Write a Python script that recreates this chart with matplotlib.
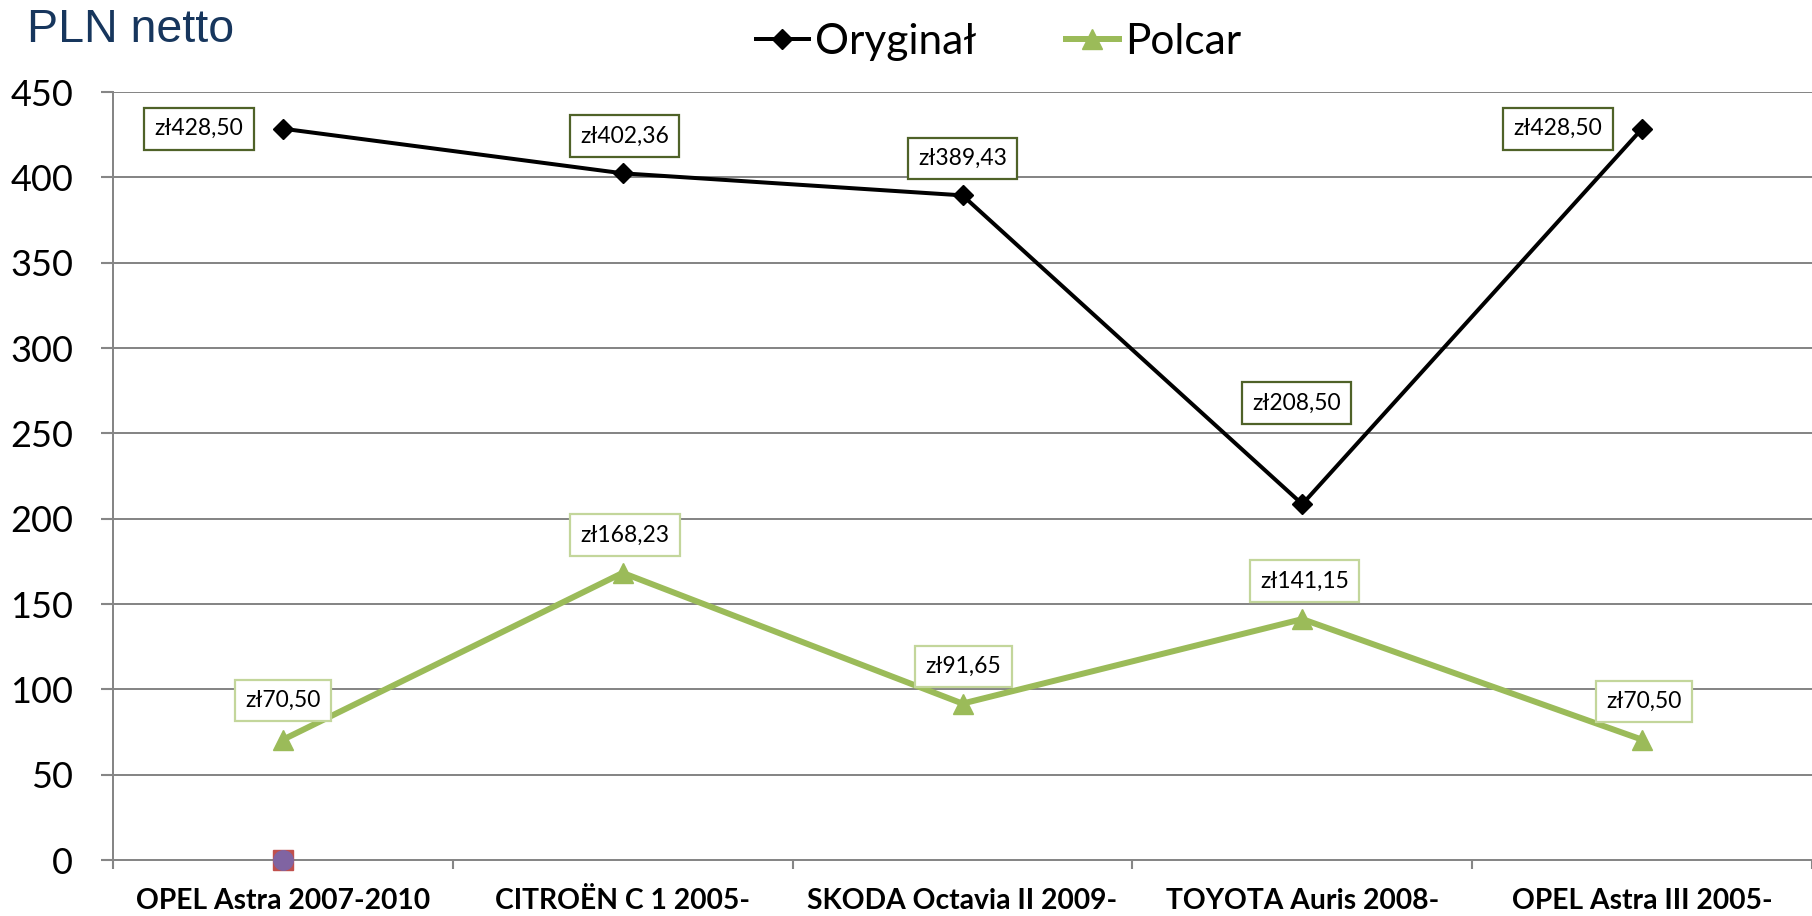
import matplotlib
matplotlib.use("Agg")
import matplotlib.pyplot as plt
from matplotlib.lines import Line2D
from matplotlib.transforms import Bbox

# ---- data ----
categories = ["OPEL Astra 2007-2010", "CITROËN C 1 2005-", "SKODA Octavia II 2009-",
              "TOYOTA Auris 2008-", "OPEL Astra III 2005-"]
oryginal = [428.50, 402.36, 389.43, 208.50, 428.50]
polcar = [70.50, 168.23, 91.65, 141.15, 70.50]
extra_square = [0.0]   # third series (only first category)
extra_circle = [0.0]   # fourth series (only first category)
y_ticks = [0, 50, 100, 150, 200, 250, 300, 350, 400, 450]
series_names = ["Oryginał", "Polcar"]

# label offsets in pixels (dx, dy up)
ory_off = [(-84, 0), (2, 37), (0, 37), (-6, 101), (-84, 0)]
pol_off = [(0, 39), (2, 38), (1, 37), (2, 38), (2, 38)]

W, H = 1812, 916
PX = 72 / 100.0

plt.rcParams['font.family'] = ['Lato', 'DejaVu Sans']

fig = plt.figure(figsize=(W / 100, H / 100), dpi=100)
ax = fig.add_axes([113 / W, 1 - 860 / H, 1 - 113 / W, (860 - 92) / H])

GRID = '#868686'
BLACK = '#000000'
GREEN = '#9BBB59'

x = [i + 0.5 for i in range(len(categories))]

ax.set_xlim(0, len(categories))
ax.set_ylim(0, 450)

ax.yaxis.grid(True, color=GRID, lw=2 * PX)
ax.set_axisbelow(True)
for s in ['top', 'right']:
    ax.spines[s].set_visible(False)
for s in ['left', 'bottom']:
    ax.spines[s].set_color(GRID)
    ax.spines[s].set_linewidth(2 * PX)

ax.set_yticks(y_ticks)
ax.set_yticklabels([str(v) for v in y_ticks])
ax.tick_params(axis='y', length=12 * PX, width=1.5, color=GRID, labelsize=26, pad=20)

ax.set_xticks(range(len(categories) + 1))
ax.set_xticklabels([])
ax.set_xticks(x, minor=True)
ax.set_xticklabels(categories, minor=True, fontweight='bold', fontsize=20.3)
ax.tick_params(axis='x', which='major', length=9 * PX, width=1.5, color=GRID)
ax.tick_params(axis='x', which='minor', length=0, pad=20)

ax.plot(x, oryginal, color=BLACK, lw=4 * PX, marker='D', ms=10, mec=BLACK, mfc=BLACK,
        zorder=4, clip_on=False)
ax.plot(x, polcar, color=GREEN, lw=6 * PX, marker='^', ms=14, mec=GREEN, mfc=GREEN,
        zorder=4, clip_on=False)
ax.plot(x[:1], extra_square, ls='none', marker='s', ms=15, mfc='#C0504D', mec='#C0504D',
        zorder=5, clip_on=False)
ax.plot(x[:1], extra_circle, ls='none', marker='o', ms=14, mfc='#8064A2', mec='#8064A2',
        zorder=6, clip_on=False)


def fmt(v):
    return "zł" + f"{v:.2f}".replace('.', ',')


def add_labels(vals, offs, edge):
    for xi, v, (dx, dy) in zip(x, vals, offs):
        ax.annotate(fmt(v), (xi, v), xytext=(dx * PX, dy * PX), textcoords='offset points',
                    ha='center', va='center', fontsize=16.5, color='black', zorder=7,
                    annotation_clip=False,
                    bbox=dict(boxstyle='square,pad=0.45', fc='white', ec=edge, lw=1.6))


add_labels(oryginal, ory_off, '#4F6228')
add_labels(polcar, pol_off, '#C3D69B')

# title
fig.text(27 / W, 1 - 42 / H, "PLN netto", fontsize=33.5, color='#17365D',
         family=['Liberation Sans', 'DejaVu Sans'], ha='left', va='baseline')

# legend
handles = [Line2D([], [], color=BLACK, lw=4 * PX, marker='D', ms=10, mfc=BLACK, mec=BLACK),
           Line2D([], [], color=GREEN, lw=6 * PX, marker='^', ms=14, mfc=GREEN, mec=GREEN)]
leg = fig.legend(handles, series_names, loc='center left',
                 bbox_to_anchor=(756 / W, 1 - 42 / H), ncol=2, frameon=False,
                 fontsize=30.5, handlelength=1.25, handletextpad=0.15, columnspacing=2.1,
                 borderpad=0, borderaxespad=0)
clip = Bbox([[0, H - 63], [W, H]])
for t in leg.get_texts():
    t.set_clip_box(clip)
    t.set_clip_on(True)

fig.savefig("out.png", dpi=100)
